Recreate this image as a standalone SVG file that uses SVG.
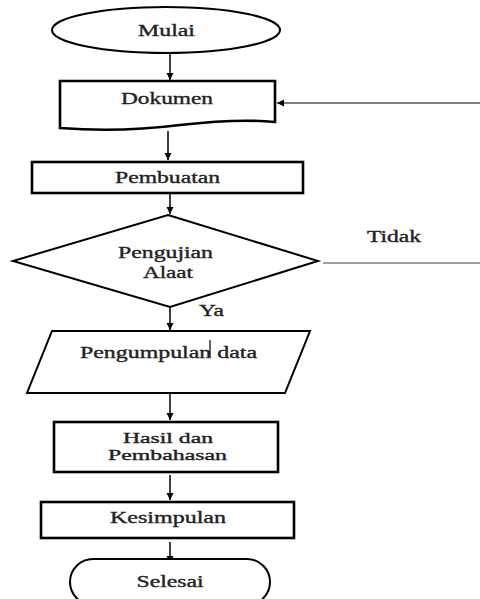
<svg xmlns="http://www.w3.org/2000/svg" width="480" height="599" viewBox="0 0 480 599">
<defs>
<marker id="ah" markerWidth="8" markerHeight="8" refX="7" refY="4" orient="auto" markerUnits="userSpaceOnUse">
<path d="M0,0.5 L7,4 L0,7.5 Z" fill="#000"/>
</marker>
</defs>
<style>
.shape{fill:#fff;stroke:#000;stroke-width:2;}
.thick{stroke-width:2.6;}
.lbl{font-family:"Liberation Serif","Times New Roman",serif;font-size:16px;fill:#222;stroke:#222;stroke-width:0.35;text-anchor:middle;}
.sm{font-size:14px;}
.con{fill:none;stroke:#000;stroke-width:1.5;}
.thin{fill:none;stroke:#444;stroke-width:1.2;}
</style>
<rect width="480" height="599" fill="#fff"/>
<g id="connectors">
<line class="con" x1="170" y1="54" x2="170" y2="80" marker-end="url(#ah)"/>
<line class="con" x1="168" y1="131" x2="168" y2="160" marker-end="url(#ah)"/>
<line class="con" x1="170" y1="194" x2="170" y2="214" marker-end="url(#ah)"/>
<line class="con" x1="170" y1="308" x2="170" y2="330" marker-end="url(#ah)"/>
<line class="con" x1="170" y1="394" x2="170" y2="420" marker-end="url(#ah)"/>
<line class="con" x1="170" y1="475" x2="170" y2="500" marker-end="url(#ah)"/>
<line class="con" x1="170" y1="542" x2="170" y2="563" marker-end="url(#ah)"/>
<line class="thin" x1="323" y1="263" x2="480" y2="263"/>
<line class="con" x1="480" y1="103" x2="277" y2="103" marker-end="url(#ah)" style="stroke-width:1.2"/>
<text class="lbl" x="394" y="242" textLength="54" lengthAdjust="spacingAndGlyphs">Tidak</text>
<text class="lbl" x="211.5" y="316" textLength="25" lengthAdjust="spacingAndGlyphs">Ya</text>
</g>
<g id="mulai">
<ellipse class="shape" cx="166" cy="30" rx="114" ry="23"/>
<text class="lbl" x="166.5" y="36" textLength="57" lengthAdjust="spacingAndGlyphs">Mulai</text>
</g>
<g id="dokumen">
<path class="shape thick" d="M60,81 H275 V122 C245,119 215,121 180,125 C140,130 100,131 60,128 Z"/>
<text class="lbl" x="167" y="104" textLength="92" lengthAdjust="spacingAndGlyphs">Dokumen</text>
</g>
<g id="pembuatan">
<rect class="shape thick" x="32" y="162" width="271" height="31"/>
<text class="lbl" x="167.5" y="183" textLength="105" lengthAdjust="spacingAndGlyphs">Pembuatan</text>
</g>
<g id="pengujian">
<polygon class="shape" points="168,215 318,261 170,307 13,261"/>
<text class="lbl" x="165.5" y="258" textLength="95" lengthAdjust="spacingAndGlyphs">Pengujian</text>
<text class="lbl" x="168" y="278" textLength="50" lengthAdjust="spacingAndGlyphs">Alaat</text>
</g>
<g id="pengumpulan">
<polygon class="shape" points="52,331 310,331 285,393 27,393"/>
<text class="lbl" x="168.5" y="358" textLength="177" lengthAdjust="spacingAndGlyphs">Pengumpulan data</text>
<line x1="210" y1="340" x2="210" y2="357" stroke="#000" stroke-width="1.2"/>
</g>
<g id="hasil">
<rect class="shape thick" x="54" y="422" width="224" height="50"/>
<text class="lbl sm" x="168" y="443" textLength="90" lengthAdjust="spacingAndGlyphs">Hasil dan</text>
<text class="lbl sm" x="167.5" y="460" textLength="119" lengthAdjust="spacingAndGlyphs">Pembahasan</text>
</g>
<g id="kesimpulan">
<rect class="shape thick" x="41" y="502" width="253" height="36"/>
<text class="lbl" x="168" y="523" textLength="116" lengthAdjust="spacingAndGlyphs">Kesimpulan</text>
</g>
<g id="selesai">
<rect class="shape" x="70" y="559" width="200" height="46" rx="23"/>
<text class="lbl" x="170" y="587" textLength="67" lengthAdjust="spacingAndGlyphs">Selesai</text>
</g>
</svg>
